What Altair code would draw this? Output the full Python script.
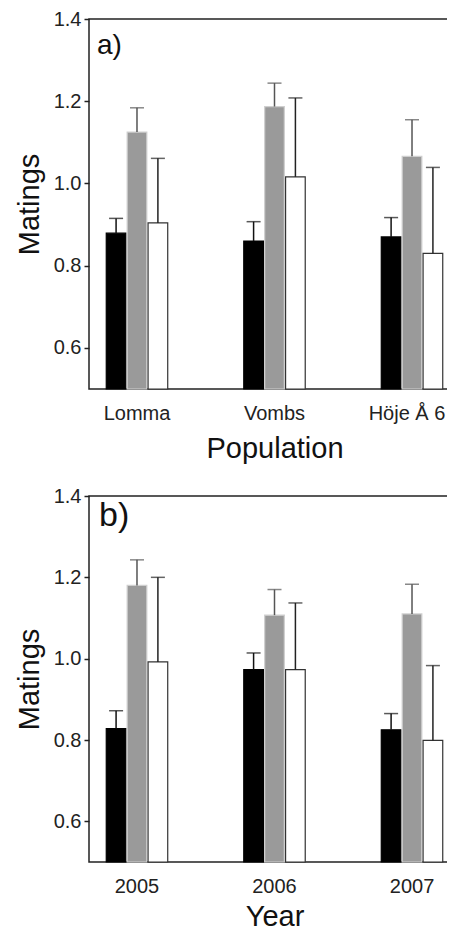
import altair as alt
import pandas as pd

# ---- data ----
populations = ["Lomma", "Vombs", "Höje Å 6"]
years = ["2005", "2006", "2007"]
groups = ["Black", "Grey", "White"]

pop_black = [0.879, 0.860, 0.870]
pop_black_se = [0.036, 0.047, 0.047]
pop_grey = [1.125, 1.187, 1.066]
pop_grey_se = [0.059, 0.057, 0.089]
pop_white = [0.904, 1.016, 0.830]
pop_white_se = [0.157, 0.192, 0.209]

year_black = [0.828, 0.973, 0.825]
year_black_se = [0.044, 0.041, 0.040]
year_grey = [1.180, 1.107, 1.110]
year_grey_se = [0.063, 0.063, 0.073]
year_white = [0.992, 0.973, 0.799]
year_white_se = [0.208, 0.164, 0.184]

y_ticks = [0.6, 0.8, 1.0, 1.2, 1.4]
y_domain = [0.5, 1.4]
panel_labels = ["a)", "b)"]

# ---- styles ----
FONT = "Liberation Sans"
bar_fill = ["#000000", "#9a9a9a", "#ffffff"]
bar_stroke = ["#000000", "#cfcfcf", "#333333"]
err_color = ["#111111", "#555555", "#222222"]
W = 371


def make_df(cats, series):
    rows = []
    for g, (means, ses) in zip(groups, series):
        for c, m, s in zip(cats, means, ses):
            rows.append({"cat": c, "grp": g, "mean": m, "upper": m + s})
    return pd.DataFrame(rows)


def panel(df, cats, xtitle, label, height, lab_size, lab_x, lab_y, shift_last, title_pad):
    offset_expr = f"datum.value == '{cats[-1]}' ? {shift_last} : 0"
    x = alt.X(
        "cat:N", sort=cats, title=xtitle,
        scale=alt.Scale(paddingInner=0.553, paddingOuter=0.1255),
        axis=alt.Axis(labelAngle=0, ticks=False, domain=False, labelPadding=14,
                      titlePadding=title_pad, labelFontSize=20, titleFontSize=29,
                      labelOffset=alt.ExprRef(offset_expr)),
    )
    xo = alt.XOffset("grp:N", sort=groups,
                     scale=alt.Scale(paddingInner=0.06, paddingOuter=0))
    y = alt.Y(
        "mean:Q", title="Matings",
        scale=alt.Scale(domain=y_domain, nice=False, zero=False),
        axis=alt.Axis(values=y_ticks, format=".1f", tickSize=5, tickWidth=1.5,
                      tickColor="#222222", domain=False, labelPadding=3,
                      titlePadding=9, labelFontSize=20, titleFontSize=29),
    )
    base = alt.Chart(df)
    bars = base.mark_bar(strokeWidth=1.2).encode(
        x=x, xOffset=xo, y=y, y2=alt.datum(y_domain[0]),
        fill=alt.Fill("grp:N", scale=alt.Scale(domain=groups, range=bar_fill), legend=None),
        stroke=alt.Stroke("grp:N", scale=alt.Scale(domain=groups, range=bar_stroke), legend=None),
    )
    ecol = alt.Color("grp:N", scale=alt.Scale(domain=groups, range=err_color), legend=None)
    err = base.mark_rule(strokeWidth=1.5).encode(
        x=x, xOffset=xo, y="mean:Q", y2="upper:Q", color=ecol)
    cap = base.mark_tick(size=14, thickness=1.5).encode(
        x=x, xOffset=xo, y="upper:Q", color=ecol)
    lab = alt.Chart(pd.DataFrame({"t": [label]})).mark_text(
        align="left", baseline="top", fontSize=lab_size, font=FONT, color="#111111"
    ).encode(text="t:N", x=alt.value(lab_x), y=alt.value(lab_y))
    return alt.layer(bars, err, cap, lab).properties(width=W, height=height)


df_pop = make_df(populations, [(pop_black, pop_black_se), (pop_grey, pop_grey_se),
                               (pop_white, pop_white_se)])
df_year = make_df(years, [(year_black, year_black_se), (year_grey, year_grey_se),
                          (year_white, year_white_se)])

chart = alt.vconcat(
    panel(df_pop, populations, "Population", panel_labels[0], 370, 28, 8, 13, -5, 11),
    panel(df_year, years, "Year", panel_labels[1], 366, 34, 10, 3, 0, 6),
    spacing=21,
).properties(
    padding={"left": 6, "top": 0, "right": -14, "bottom": 0}
).configure_view(
    stroke="#222222", strokeWidth=1.5
).configure_axis(
    labelFont=FONT, titleFont=FONT, labelColor="#222222", titleColor="#111111",
    titleFontWeight="normal", grid=False,
)

chart.save("out.html", embed_options={"renderer": "svg", "actions": False})
